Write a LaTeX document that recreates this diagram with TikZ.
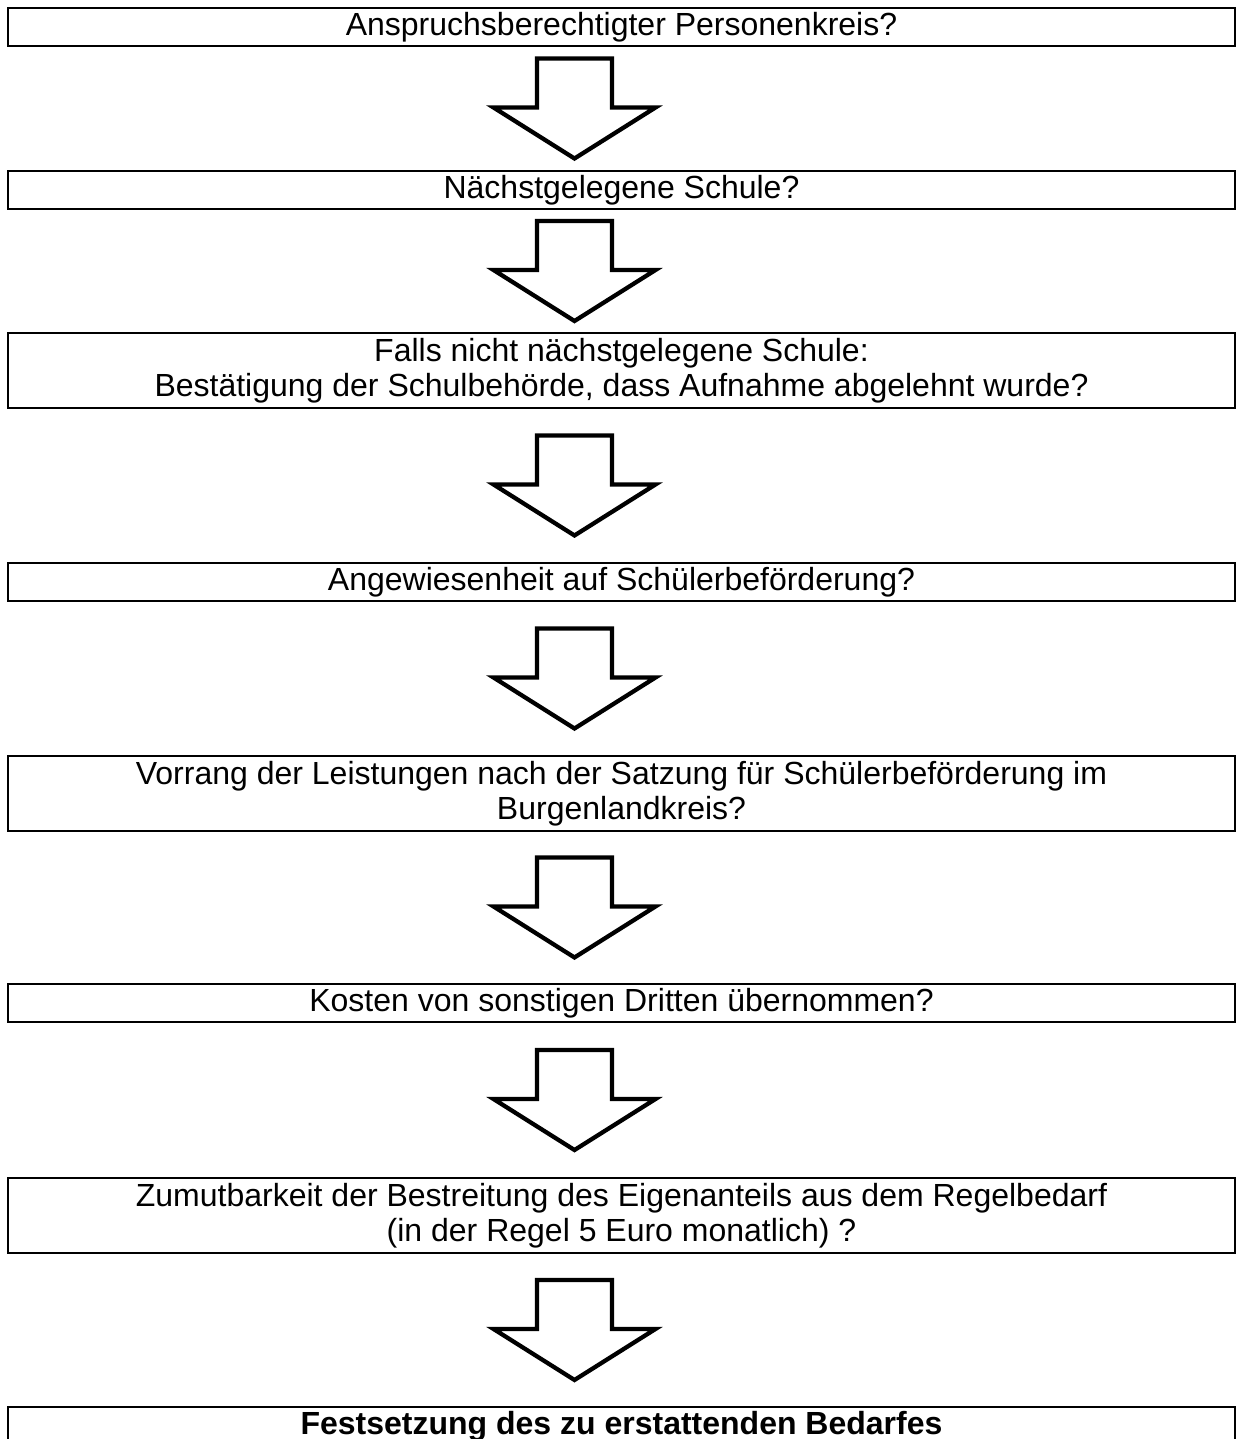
\documentclass[tikz,border=0pt]{standalone}
\usepackage{fontspec}
\setmainfont{Liberation Sans}
\usetikzlibrary{calc}

\tikzset{
  kasten/.style={draw, line width=0.75pt, minimum width=460.1pt, minimum height=14.25pt,
    inner sep=0pt, align=center, anchor=north, font=\fontsize{12}{13}\selectfont},
  kasten2/.style={kasten, minimum height=28.1pt},
  blockpfeil/.style={draw, line width=1.6pt, fill=white, line join=miter},
  pics/pfeil/.style={code={
    \draw[blockpfeil] (-37.5,-50) -- (37.5,-50) -- (37.5,-1) -- (81,-1) -- (0,50)
      -- (-81,-1) -- (-37.5,-1) -- cycle;}}
}

\begin{document}
\begin{tikzpicture}[x=0.375pt,y=-0.375pt]
  \useasboundingbox (0,0) rectangle (1237,1439);

  % Pruefschritte
  \node[kasten] (b1) at (621.5,7) {Anspruchsberechtigter Personenkreis?};
  \node[kasten] (b2) at (621.5,170) {Nächstgelegene Schule?};
  \node[kasten2] (b3) at (621.5,332) {Falls nicht nächstgelegene Schule:\\Bestätigung der Schulbehörde, dass Aufnahme abgelehnt wurde?};
  \node[kasten] (b4) at (621.5,562) {Angewiesenheit auf Schülerbeförderung?};
  \node[kasten2] (b5) at (621.5,755) {Vorrang der Leistungen nach der Satzung für Schülerbeförderung im\\Burgenlandkreis?};
  \node[kasten] (b6) at (621.5,983) {Kosten von sonstigen Dritten übernommen?};
  \node[kasten2] (b7) at (621.5,1177) {Zumutbarkeit der Bestreitung des Eigenanteils aus dem Regelbedarf\\(in der Regel 5 Euro monatlich) ?};
  \node[kasten] (b8) at (621.5,1406) {\textbf{Festsetzung des zu erstattenden Bedarfes}};

  % Pfeile
  \pic at ($(b1.south)!.5!(b2.north)+(-47,0)$) {pfeil};
  \pic at ($(b2.south)!.5!(b3.north)+(-47,0)$) {pfeil};
  \pic at ($(b3.south)!.5!(b4.north)+(-47,0)$) {pfeil};
  \pic at ($(b4.south)!.5!(b5.north)+(-47,0)$) {pfeil};
  \pic at ($(b5.south)!.5!(b6.north)+(-47,0)$) {pfeil};
  \pic at ($(b6.south)!.5!(b7.north)+(-47,0)$) {pfeil};
  \pic at ($(b7.south)!.5!(b8.north)+(-47,0)$) {pfeil};

\end{tikzpicture}
\end{document}
